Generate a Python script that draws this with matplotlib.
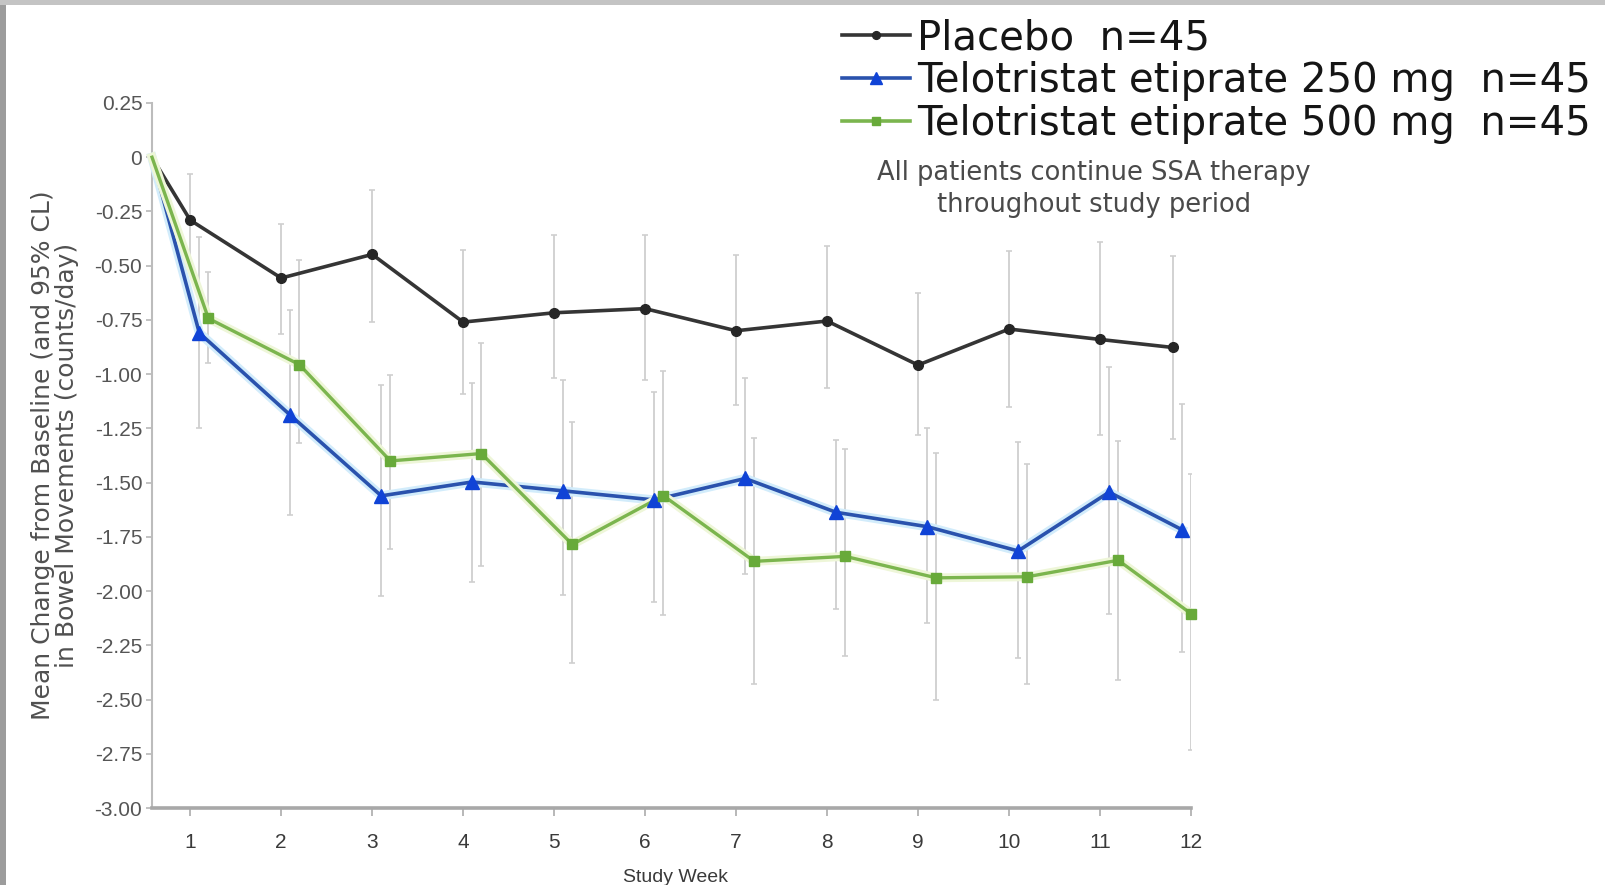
import numpy as np
import matplotlib
matplotlib.use("Agg")
import matplotlib.pyplot as plt
from matplotlib import font_manager
from matplotlib.lines import Line2D
from matplotlib.patches import Rectangle
import matplotlib.patheffects as pe

# ---- data: mean change from baseline in bowel movements (counts/day) ----
weeks = np.arange(0, 13)
week_ticks = list(range(1, 13))
y_ticks = [0.25, 0, -0.25, -0.5, -0.75, -1.0, -1.25, -1.5, -1.75, -2.0, -2.25, -2.5, -2.75, -3.0]
y_tick_labels = ["0.25", "0", "-0.25", "-0.50", "-0.75", "-1.00", "-1.25", "-1.50",
                 "-1.75", "-2.00", "-2.25", "-2.50", "-2.75", "-3.00"]

labels = ["Placebo  n=45",
          "Telotristat etiprate 250 mg  n=45",
          "Telotristat etiprate 500 mg  n=45"]

placebo_mean = [0, -0.29, -0.557, -0.448, -0.76, -0.717, -0.698, -0.80, -0.755, -0.958, -0.792, -0.84, -0.877]
placebo_lo = [np.nan, -0.50, -0.816, -0.76, -1.092, -1.017, -1.025, -1.14, -1.066, -1.281, -1.153, -1.281, -1.298]
placebo_hi = [np.nan, -0.079, -0.306, -0.152, -0.427, -0.36, -0.36, -0.45, -0.409, -0.627, -0.432, -0.389, -0.457]

te250_mean = [0, -0.81, -1.189, -1.561, -1.497, -1.538, -1.58, -1.481, -1.637, -1.703, -1.815, -1.544, -1.717]
te250_lo = [np.nan, -1.25, -1.651, -2.024, -1.959, -2.018, -2.05, -1.92, -2.084, -2.146, -2.308, -2.104, -2.282]
te250_hi = [np.nan, -0.37, -0.703, -1.051, -1.043, -1.025, -1.082, -1.017, -1.304, -1.247, -1.315, -0.966, -1.136]

te500_mean = [0, -0.743, -0.956, -1.40, -1.366, -1.785, -1.56, -1.863, -1.84, -1.939, -1.934, -1.858, -2.104]
te500_lo = [np.nan, -0.95, -1.319, -1.805, -1.886, -2.33, -2.109, -2.429, -2.30, -2.503, -2.427, -2.41, -2.732]
te500_hi = [np.nan, -0.53, -0.476, -1.003, -0.857, -1.222, -0.984, -1.296, -1.345, -1.365, -1.416, -1.306, -1.459]

note = "All patients continue SSA therapy\nthroughout study period"
y_label = "Mean Change from Baseline (and 95% CL)\nin Bowel Movements (counts/day)"
x_label = "Study Week"

# ---- fonts ----
available = {f.name for f in font_manager.fontManager.ttflist}
narrow = "Liberation Sans Narrow" if "Liberation Sans Narrow" in available else "Liberation Sans"
plt.rcParams["font.family"] = ["DejaVu Sans"]

# ---- figure ----
W, H = 1606, 885
fig = plt.figure(figsize=(W / 100, H / 100), dpi=100, facecolor="white")

# frame strips around the slide
fig.patches.append(Rectangle((0, 0), 6 / W, 1, transform=fig.transFigure,
                             facecolor="#9c9c9c", edgecolor="none", zorder=0))
fig.patches.append(Rectangle((0, 1 - 5 / H), 1, 5 / H, transform=fig.transFigure,
                             facecolor="#c4c4c4", edgecolor="none", zorder=0))

ax_left, ax_right, ax_top, ax_bottom = 152, 1191, 103, 808
ax = fig.add_axes([ax_left / W, 1 - ax_bottom / H, (ax_right - ax_left) / W, (ax_bottom - ax_top) / H])
ax.set_facecolor("none")

x_start = 0.58
x_end = 12.0
ax.set_xlim(x_start, x_end)
ax.set_ylim(-3.0, 0.25)

styles = [
    dict(mean=placebo_mean, lo=placebo_lo, hi=placebo_hi, color="#353535", mfc="#262626",
         marker="o", ms=7, lw=2.6, offset=0.0, halo=None),
    dict(mean=te250_mean, lo=te250_lo, hi=te250_hi, color="#2a52ad", mfc="#1043d6",
         marker="^", ms=10, lw=2.6, offset=0.1, halo="#d2ecfb"),
    dict(mean=te500_mean, lo=te500_lo, hi=te500_hi, color="#7bb54e", mfc="#68aa3a",
         marker="s", ms=7.5, lw=2.4, offset=0.2, halo="#eef6d8"),
]

max_offset = max(s["offset"] for s in styles)
handles = []
for s in styles:
    # dodge the groups; the last group is pulled back so it ends on the final tick
    x = weeks + s["offset"]
    x = np.where(weeks == weeks.max(), weeks + s["offset"] - max_offset, x)
    x = np.where(weeks == 0, x_start, x).astype(float)
    mean = np.array(s["mean"], dtype=float)
    lo = np.array(s["lo"], dtype=float)
    hi = np.array(s["hi"], dtype=float)
    m = ~np.isnan(lo)
    ax.errorbar(x[m], mean[m], yerr=[mean[m] - lo[m], hi[m] - mean[m]], fmt="none",
                ecolor="#cfcfcf", elinewidth=1.3, capsize=2, capthick=1.2, zorder=2)
    effects = [pe.Stroke(linewidth=s["lw"] + 4, foreground=s["halo"]), pe.Normal()] if s["halo"] else None
    ax.plot(x, mean, color=s["color"], lw=s["lw"], zorder=4, path_effects=effects,
            solid_joinstyle="round", clip_on=False)
    ax.plot(x[1:], mean[1:], linestyle="none", marker=s["marker"], ms=s["ms"],
            mfc=s["mfc"], mec=s["mfc"], zorder=5, clip_on=False)
    handles.append(Line2D([], [], color=s["color"], lw=2.6, marker=s["marker"],
                          ms=s["ms"] * 0.8, mfc=s["mfc"], mec=s["mfc"]))

# ---- axes styling ----
for side in ("top", "right"):
    ax.spines[side].set_visible(False)
ax.spines["left"].set_color("#bcbcbc")
ax.spines["left"].set_linewidth(1.5)
ax.spines["bottom"].set_color("#a8a8a8")
ax.spines["bottom"].set_linewidth(2.6)

ax.set_yticks(y_ticks)
ax.set_yticklabels(y_tick_labels, fontfamily=narrow, fontsize=15, color="#555555")
ax.set_xticks(week_ticks)
ax.set_xticklabels([str(w) for w in week_ticks], fontfamily=narrow, fontsize=15, color="#3a3a3a")
ax.tick_params(axis="y", length=4, width=1.2, color="#b8b8b8", pad=3)
ax.tick_params(axis="x", length=6, width=1.4, color="#b8b8b8", pad=12)

ax.set_ylabel(y_label, fontfamily="DejaVu Sans", fontsize=18, color="#505050", linespacing=1.0)
ax.yaxis.set_label_coords(-0.070, 0.5)

fig.text(676 / W, 1 - 877 / H, x_label, fontfamily=narrow, fontsize=14, color="#3a3a3a",
         ha="center", va="center")

# ---- legend and note ----
fig.legend(handles, labels, loc="upper left", bbox_to_anchor=(842 / W, 1 - 18 / H),
           frameon=False, fontsize=29, handlelength=1.69, handletextpad=0.17,
           labelspacing=0.07, borderpad=0, borderaxespad=0, labelcolor="#151515")

fig.text(1094 / W, 1 - 189 / H, note, fontsize=18.5, color="#4a4a4a", ha="center",
         va="center", linespacing=1.3)

fig.savefig("out.png", dpi=100, facecolor="white")
